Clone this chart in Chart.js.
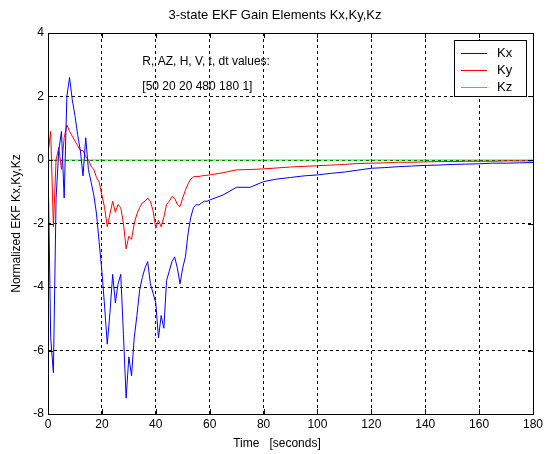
<!DOCTYPE html>
<html>
<head>
<meta charset="utf-8">
<script src="https://cdn.jsdelivr.net/npm/chart.js@4/dist/chart.umd.min.js"></script>
<style>
  html, body { margin: 0; padding: 0; background: #ffffff; }
  #wrap { width: 547px; height: 454px; }
</style>
</head>
<body>
<div id="wrap"><canvas id="graficoGanancia"></canvas></div>
<script>
const tiempo = [
  0, 1, 2, 3, 4, 5, 6, 7, 8, 9, 10, 11, 12, 13, 14, 15, 16, 17, 18, 19,
  20, 21, 22, 23, 24, 25, 26, 27, 28, 29, 30, 31, 32, 33, 34, 35, 36, 37, 38, 39,
  40, 41, 42, 43, 44, 45, 46, 47, 48, 49, 50, 51, 52, 53, 54, 55, 56, 57, 58, 59,
  60, 65, 70, 75, 80, 85, 90, 95, 100, 105, 110, 115, 120, 125, 130, 135, 140,
  145, 150, 155, 160, 165, 170, 175, 180,
];

const valoresKx = [
  0.0, -5.6, -6.7, -1.2, 0.3, 0.9, -1.2, 2.0, 2.6, 1.9, 1.4, 0.8, 0.3, -0.5, 0.7, -0.3, -0.7, -1.1, -1.7, -2.6,
  -3.5, -4.6, -5.8, -4.8, -3.6, -4.5, -3.9, -3.6, -5.5, -7.5, -6.2, -6.8, -5.6, -4.9, -4.1, -3.7, -3.4, -3.2, -3.9, -4.2,
  -4.5, -5.6, -4.9, -5.3, -3.8, -3.5, -3.2, -3.05, -3.4, -3.9, -3.4, -3.05, -2.3, -1.8, -1.5, -1.4, -1.42, -1.35, -1.3, -1.3,
  -1.26, -1.1, -0.86, -0.86, -0.68, -0.6, -0.55, -0.5, -0.47, -0.42, -0.38, -0.32, -0.26, -0.24, -0.21, -0.19, -0.17,
  -0.16, -0.14, -0.13, -0.12, -0.1, -0.1, -0.09, -0.08,
];

const valoresKy = [
  0.2, 0.9, -2.1, 0.0, 0.4, -0.3, 0.7, 1.1, 0.9, 0.75, 0.6, 0.45, 0.3, 0.3, 0.1, 0.0, -0.2, -0.3, -0.55, -0.7,
  -1.1, -1.5, -2.1, -1.7, -1.3, -1.65, -1.4, -1.5, -2.0, -2.8, -2.4, -2.5, -2.0, -1.7, -1.5, -1.35, -1.3, -1.2, -1.3, -1.6,
  -2.15, -1.9, -2.1, -1.8, -1.4, -1.3, -1.15, -1.2, -1.4, -1.47, -1.2, -0.95, -0.75, -0.6, -0.53, -0.52, -0.52, -0.5, -0.49, -0.48,
  -0.47, -0.4, -0.31, -0.3, -0.28, -0.25, -0.22, -0.2, -0.18, -0.16, -0.14, -0.11, -0.1, -0.09, -0.07, -0.07, -0.06,
  -0.05, -0.05, -0.04, -0.04, -0.04, -0.03, -0.03, -0.03,
];

const valoresKz = tiempo.map(() => 0);

const etiquetasSerie = ["Kx", "Ky", "Kz"];
const coloresSerie = ["#0000ff", "#ff0000", "#00ff00"];
const textoParametros = ["R, AZ, H, V, t, dt values:", "[50 20 20 480 180 1]"];

const puntos = (valores) => tiempo.map((t, i) => ({ x: t, y: valores[i] }));

const fuente = "Liberation Sans, Arial, sans-serif";

// titulos, marcas internas, marco y leyenda estilo MATLAB
const decoracion = {
  id: "decoracion",
  afterDatasetsDraw(chart) {
    const { ctx, chartArea: a, scales } = chart;
    const sx = scales.x;
    const sy = scales.y;
    ctx.save();

    ctx.strokeStyle = "#000";
    ctx.lineWidth = 1;
    ctx.beginPath();
    for (let v = 0; v <= 180; v += 20) {
      const px = Math.round(sx.getPixelForValue(v)) + 0.5;
      ctx.moveTo(px, a.bottom);
      ctx.lineTo(px, a.bottom - 5);
      ctx.moveTo(px, a.top);
      ctx.lineTo(px, a.top + 5);
    }
    for (let v = -8; v <= 4; v += 2) {
      const py = Math.round(sy.getPixelForValue(v)) + 0.5;
      ctx.moveTo(a.left, py);
      ctx.lineTo(a.left + 5, py);
      ctx.moveTo(a.right, py);
      ctx.lineTo(a.right - 5, py);
    }
    ctx.stroke();
    ctx.strokeRect(Math.round(a.left) + 0.5, Math.round(a.top) + 0.5,
      Math.round(a.right - a.left), Math.round(a.bottom - a.top));

    ctx.fillStyle = "#000";
    ctx.font = "12px " + fuente;
    ctx.textAlign = "left";
    ctx.textBaseline = "middle";
    ctx.fillText(textoParametros[0], sx.getPixelForValue(35), sy.getPixelForValue(3.09));
    ctx.fillText(textoParametros[1], sx.getPixelForValue(35), sy.getPixelForValue(2.3));

    // leyenda
    const lx = 454.5, ly = 40.5, lw = 72, lh = 56;
    ctx.fillStyle = "#fff";
    ctx.fillRect(lx, ly, lw, lh);
    ctx.strokeStyle = "#000";
    ctx.strokeRect(lx, ly, lw, lh);
    etiquetasSerie.forEach((et, i) => {
      const y = 53 + i * 17;
      ctx.strokeStyle = coloresSerie[i];
      ctx.beginPath();
      ctx.moveTo(461, y + 0.5);
      ctx.lineTo(487, y + 0.5);
      ctx.stroke();
      ctx.fillStyle = "#000";
      ctx.font = "13px " + fuente;
      ctx.fillText(et, 497, y);
    });

    ctx.textAlign = "center";
    ctx.font = "13px " + fuente;
    ctx.fillText("3-state EKF Gain Elements Kx,Ky,Kz", 275, 15);
    ctx.font = "12px " + fuente;
    ctx.fillText("Time   [seconds]", 277, 444);
    ctx.translate(17, (a.top + a.bottom) / 2);
    ctx.rotate(-Math.PI / 2);
    ctx.fillText("Normalized EKF Kx,Ky,Kz", 0, 0);
    ctx.restore();
  },
};

const ctxGanancia = document.getElementById("graficoGanancia");

new Chart(ctxGanancia, {
  type: "line",
  data: {
    datasets: [
      { label: etiquetasSerie[0], data: puntos(valoresKx), borderColor: coloresSerie[0] },
      { label: etiquetasSerie[1], data: puntos(valoresKy), borderColor: coloresSerie[1] },
      { label: etiquetasSerie[2], data: puntos(valoresKz), borderColor: coloresSerie[2] },
    ],
  },
  options: {
    responsive: true,
    maintainAspectRatio: false,
    animation: false,
    layout: { padding: { top: 33, right: 14, left: 0, bottom: 0 } },
    elements: {
      line: { borderWidth: 1, tension: 0 },
      point: { radius: 0 },
    },
    plugins: {
      legend: { display: false },
      title: { display: false },
      tooltip: { enabled: false },
    },
    scales: {
      x: {
        type: "linear",
        min: 0,
        max: 180,
        afterFit: (s) => { s.height = 40; },
        ticks: { stepSize: 20, color: "#000", padding: 3, maxRotation: 0, font: { family: fuente, size: 12 } },
        grid: { color: "#000", drawTicks: false, tickBorderDash: [3, 3] },
        border: { display: false, dash: [3, 3] },
      },
      y: {
        min: -8,
        max: 4,
        afterFit: (s) => { s.width = 48; },
        ticks: { stepSize: 2, color: "#000", padding: 4, font: { family: fuente, size: 12 } },
        grid: { color: "#000", drawTicks: false },
        border: { display: false, dash: [3, 3] },
      },
    },
  },
  plugins: [decoracion],
});
</script>
</body>
</html>
